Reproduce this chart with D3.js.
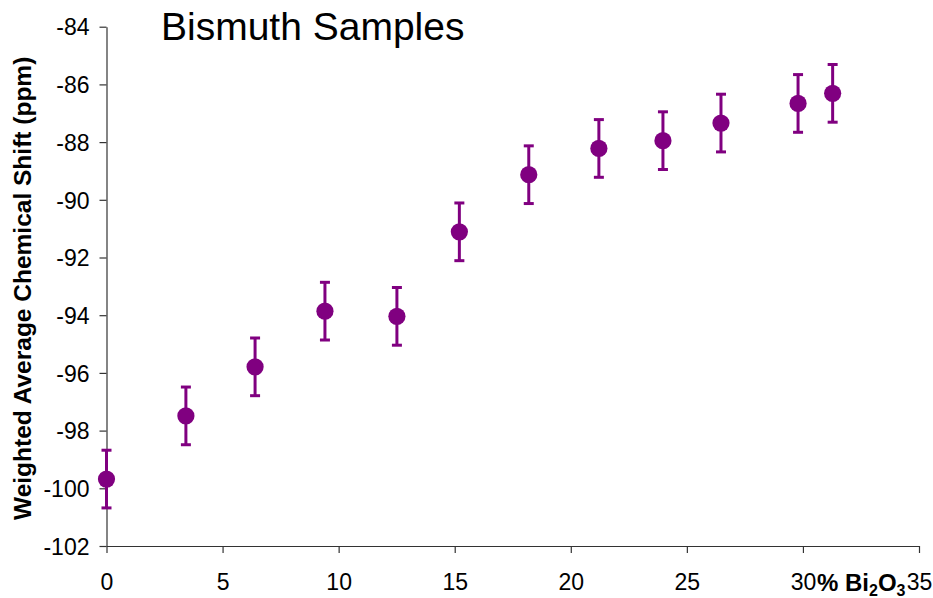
<!DOCTYPE html>
<html>
<head>
<meta charset="utf-8">
<script src="https://cdn.jsdelivr.net/npm/d3@7"></script>
<style>
  html, body { margin: 0; padding: 0; background: #fff; }
  svg { display: block; font-family: "Liberation Sans", Arial, sans-serif; }
</style>
</head>
<body>
<svg id="chart" width="933" height="598"></svg>
<script>
// Bi2O3 content (%) of each sample
const bi2o3Percent = [0, 3.42, 6.40, 9.41, 12.51, 15.20, 18.19, 21.21, 23.97, 26.47, 29.79, 31.28];
// Weighted average chemical shift (ppm)
const chemShift = [-99.68, -97.49, -95.79, -93.86, -94.04, -91.11, -89.13, -88.22, -87.95, -87.34, -86.66, -86.31];
// Error bar half-widths (ppm)
const shiftError = [1, 1, 1, 1, 1, 1, 1, 1, 1, 1, 1, 1];

const xTicks = [0, 5, 10, 15, 20, 25, 30, 35];
const yTicks = [-84, -86, -88, -90, -92, -94, -96, -98, -100, -102];

const svg = d3.select("#chart");
const plotLeft = 106.5, plotTop = 26.7;

const x = d3.scaleLinear().domain([0, 35]).range([plotLeft, 919]);
const y = d3.scaleLinear().domain([-102, -84]).range([546, plotTop]);

const color = "#800080";
const tickFont = 23;
const fmt = d => String(d); // plain hyphen-minus

// y axis
const yAxis = svg.append("g")
  .attr("transform", `translate(${plotLeft},0)`)
  .call(d3.axisLeft(y).tickValues(yTicks).tickFormat(fmt).tickSize(7).tickPadding(10).tickSizeOuter(0));
// x axis
const xAxis = svg.append("g")
  .attr("transform", `translate(0,${y(-102)})`)
  .call(d3.axisBottom(x).tickValues(xTicks).tickFormat(fmt).tickSize(7).tickPadding(20).tickSizeOuter(0));

[xAxis, yAxis].forEach(g => {
  g.select(".domain").attr("stroke", "#333").attr("stroke-width", 1.2);
  g.selectAll(".tick line").attr("stroke", "#333").attr("stroke-width", 1.2);
  g.selectAll(".tick text")
    .attr("font-family", "'Liberation Sans', Arial, sans-serif")
    .attr("font-size", tickFont)
    .attr("fill", "#000");
});
xAxis.selectAll(".tick text").attr("dy", "0.71em").attr("y", 28);
yAxis.selectAll(".tick text").attr("dy", "0.36em");

// Title
svg.append("text")
  .attr("x", 161)
  .attr("y", 39.5)
  .attr("font-size", 39)
  .attr("fill", "#000")
  .text("Bismuth Samples");

// y axis title
svg.append("text")
  .attr("transform", `translate(30.5,${(y(-84) + y(-102)) / 2 + 2}) rotate(-90)`)
  .attr("text-anchor", "middle")
  .attr("font-size", 24.5)
  .attr("font-weight", "bold")
  .attr("fill", "#000")
  .text("Weighted Average Chemical Shift (ppm)");

// x axis title: % Bi2O3
const xt = svg.append("text")
  .attr("x", 817)
  .attr("y", 591)
  .attr("font-size", 24)
  .attr("font-weight", "bold")
  .attr("fill", "#000");
xt.append("tspan").text("% Bi");
xt.append("tspan").attr("font-size", 16).attr("dy", 5).text("2");
xt.append("tspan").attr("dy", -5).text("O");
xt.append("tspan").attr("font-size", 16).attr("dy", 5).text("3");

// Data
const data = bi2o3Percent.map((v, i) => ({ x: v, y: chemShift[i], e: shiftError[i] }));

const bars = svg.append("g").attr("stroke", color).attr("stroke-width", 3);
bars.selectAll("line.err")
  .data(data).join("line").attr("class", "err")
  .attr("x1", d => x(d.x)).attr("x2", d => x(d.x))
  .attr("y1", d => y(d.y - d.e)).attr("y2", d => y(d.y + d.e));
bars.selectAll("line.capTop")
  .data(data).join("line").attr("class", "capTop")
  .attr("x1", d => x(d.x) - 5).attr("x2", d => x(d.x) + 5)
  .attr("y1", d => y(d.y + d.e)).attr("y2", d => y(d.y + d.e));
bars.selectAll("line.capBot")
  .data(data).join("line").attr("class", "capBot")
  .attr("x1", d => x(d.x) - 5).attr("x2", d => x(d.x) + 5)
  .attr("y1", d => y(d.y - d.e)).attr("y2", d => y(d.y - d.e));

svg.append("g").selectAll("circle")
  .data(data).join("circle")
  .attr("cx", d => x(d.x))
  .attr("cy", d => y(d.y))
  .attr("r", 8.6)
  .attr("fill", color);
</script>
</body>
</html>
